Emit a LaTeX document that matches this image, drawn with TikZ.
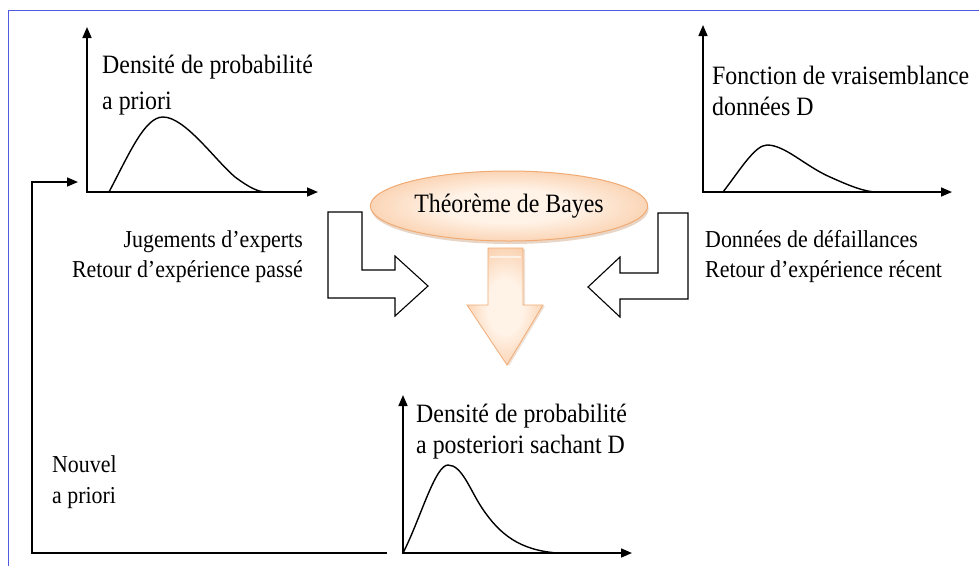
\documentclass[tikz,border=0pt]{standalone}
\usepackage{fontspec}
\setmainfont{Liberation Serif}[FakeStretch=0.9]
\usetikzlibrary{arrows.meta,shapes.geometric,shadows}

\definecolor{framebleu}{RGB}{80,90,225}
\definecolor{peachlight}{RGB}{255,242,230}
\definecolor{peachdark}{RGB}{246,180,128}
\definecolor{peachline}{RGB}{240,170,115}
\pgfdeclareradialshading{peachshade}{\pgfpoint{0bp}{0bp}}{color(0bp)=(peachlight); color(12bp)=(peachlight); color(40bp)=(peachdark); color(100bp)=(peachdark)}

\begin{document}
\begin{tikzpicture}[x=1pt, y=-1pt,
		axe/.style={line width=1.6pt, {Triangle[length=11pt,width=9pt]}-{Triangle[length=11pt,width=9pt]}},
		courbe/.style={line width=1.4pt},
		bigtxt/.style={font=\fontsize{26.5}{30}\selectfont, inner sep=0pt},
		sidetxt/.style={font=\fontsize{24.3}{28}\selectfont, inner sep=0pt},
		fleche/.style={draw=black, line width=1.1pt, fill=white, line join=miter}]
			\useasboundingbox (0,0) rectangle (979,566);
			\draw[framebleu, line width=1pt] (8,566) -- (8,10) -- (979,10);
			% axes
			\coordinate (oprior) at (87,192);
			\coordinate (ovrais) at (703,192);
			\coordinate (opost) at (403,553);
			\draw[axe] (87,27) -- (oprior) -- (318,192);
			\draw[axe] (703,25) -- (ovrais) -- (952,192);
			\draw[axe] (403,395) -- (opost) -- (632,553);
			% courbes
			\draw[courbe] (109,192) .. controls (130,152) and (145,117) .. (163,117) .. controls (185,117) and (215,160) .. (235,177) .. controls (250,188) and (258,192) .. (267,192);
			\draw[courbe] (723,192) .. controls (740,170) and (755,145) .. (767,145) .. controls (785,145) and (805,166) .. (830,177) .. controls (850,186) and (865,192) .. (877,192);
			\draw[courbe] (opost) .. controls (420,520) and (435,465) .. (448,465) .. controls (462,465) and (470,490) .. (482,508) .. controls (500,535) and (520,550) .. (557,553);
			% textes
			\node[bigtxt, anchor=base west] (prior1) at (102,73) {Densité de probabilité};
			\node[bigtxt, anchor=base west] (prior2) at (102,109) {a priori};
			\node[bigtxt, anchor=base west] (vrais1) at (712,84) {Fonction de vraisemblance};
			\node[bigtxt, anchor=base west] (vrais2) at (712,115) {données D};
			\node[bigtxt, anchor=base west] (post1) at (416,422) {Densité de probabilité};
			\node[bigtxt, anchor=base west] (post2) at (416,453) {a posteriori sachant D};
			\node[sidetxt, anchor=base east] (exp1) at (303,247) {Jugements d’experts};
			\node[sidetxt, anchor=base east] (exp2) at (303,277) {Retour d’expérience passé};
			\node[sidetxt, anchor=base west] (def1) at (705,247) {Données de défaillances};
			\node[sidetxt, anchor=base west] (def2) at (705,277) {Retour d’expérience récent};
			\node[sidetxt, anchor=base west] (nouv1) at (52,472) {Nouvel};
			\node[sidetxt, anchor=base west] (nouv2) at (52,503) {a priori};
			% boucle de retour
			\coordinate (loopstart) at (387,553);
			\coordinate (loopcorner) at (32,553);
			\coordinate (loopend) at (78,182);
			\draw[line width=1.6pt, -{Triangle[length=11pt,width=9pt]}] (loopstart) -- (loopcorner) |- (loopend);
			% fleches blanches
			\draw[fleche] (328,212) -- (362,212) -- (362,270) -- (395,270) -- (395,256) -- (428,286) -- (395,316) -- (395,298) -- (328,298) -- cycle;
			\draw[fleche] (688,213) -- (658,213) -- (658,273) -- (620,273) -- (620,257) -- (588,287) -- (620,317) -- (620,299) -- (688,299) -- cycle;
			% Bayes
			\node[ellipse, minimum width=245pt, minimum height=70pt, draw=peachline, line width=1pt, shading=peachshade, drop shadow={shadow xshift=1pt, shadow yshift=-3pt, fill=peachline!80!black, opacity=0.35}, font=\fontsize{26.5}{30}\selectfont] (bayes) at (509,206) {Théorème de Bayes};
			\draw[draw=peachline, line width=0.8pt, shading=peachshade, drop shadow={shadow xshift=2pt, shadow yshift=-1pt, fill=peachline!80!black, opacity=0.25}] (488,248) -- (523,248) -- (523,305) -- (543,305) -- (507,365) -- (467,305) -- (488,305) -- cycle;
			\draw[white!80!peachdark, line width=2pt] (490,257) -- (521,257);
		\end{tikzpicture}
\end{document}
